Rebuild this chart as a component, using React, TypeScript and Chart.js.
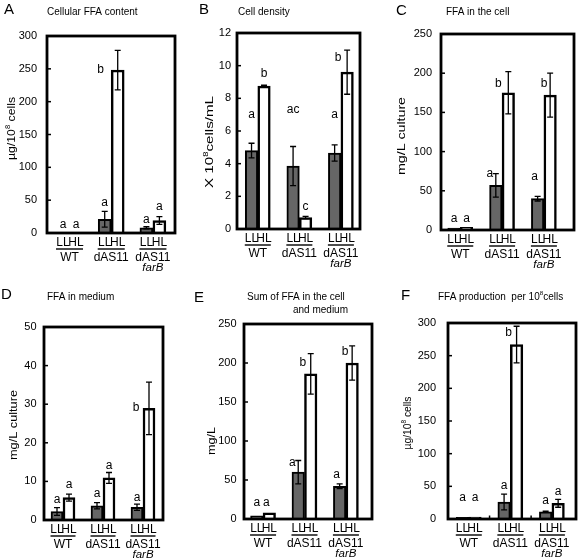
import React, { useEffect, useRef } from "react";
import { Chart, registerables } from "chart.js";

Chart.register(...registerables);

const W = 583;
const H = 559;
const FONT = '"Liberation Sans", Arial, Helvetica, sans-serif';
const GRAY = "#666666";

const groupNames = ["WT", "dAS11", "dAS11"];
const groupSubNames = ["", "", "farB"];
const lightLabels = ["LL", "HL"];

// ---- Panel A: Cellular FFA content (µg/10^8 cells)
const A_LL = [0, 21, 8];
const A_HL = [0, 248, 19];
const A_ERR_LL = [0, 12, 1.5];
const A_ERR_HL = [0, 30, 6];
const A_LET_LL = ["a", "a", "a"];
const A_LET_HL = ["a", "b", "a"];

// ---- Panel B: Cell density (x10^8 cells/mL)
const B_LL = [4.8, 3.85, 4.65];
const B_HL = [8.75, 0.7, 9.6];
const B_ERR_LL = [0.45, 1.2, 0.5];
const B_ERR_HL = [0.05, 0.07, 1.35];
const B_LET_LL = ["a", "ac", "a"];
const B_LET_HL = ["b", "c", "b"];

// ---- Panel C: FFA in the cell (mg/L culture)
const C_LL = [2.5, 57, 40];
const C_HL = [3.5, 175, 172];
const C_ERR_LL = [0, 15, 3];
const C_ERR_HL = [0, 27, 28];
const C_LET_LL = ["a", "a", "a"];
const C_LET_HL = ["a", "b", "b"];

// ---- Panel D: FFA in medium (mg/L culture)
const D_LL = [2.2, 3.7, 3.3];
const D_HL = [5.8, 10.9, 28.9];
const D_ERR_LL = [1.0, 0.8, 0.8];
const D_ERR_HL = [0.9, 1.4, 6.8];
const D_LET_LL = ["a", "a", "a"];
const D_LET_HL = ["a", "a", "b"];

// ---- Panel E: Sum of FFA in the cell and medium (mg/L)
const E_LL = [4, 60, 42];
const E_HL = [8, 186, 200];
const E_ERR_LL = [0, 15, 3];
const E_ERR_HL = [0, 26, 22];
const E_LET_LL = ["a", "a", "a"];
const E_LET_HL = ["a", "b", "b"];

// ---- Panel F: FFA production per 10^8 cells (µg/10^8 cells)
const F_LL = [2.5, 26, 11];
const F_HL = [3, 267, 24];
const F_ERR_LL = [0, 12, 1];
const F_ERR_HL = [0, 28, 6];
const F_LET_LL = ["a", "a", "a"];
const F_LET_HL = ["a", "b", "a"];

type Part = { t: string; sup?: boolean; it?: boolean };

type Panel = {
  id: string;
  letter: string;
  letterPos: [number, number];
  titles: { x: number; y: number; align: CanvasTextAlign; parts: Part[] }[];
  yTitle: Part[];
  yTitlePos: [number, number, number];
  frame: [number, number, number, number];
  xMin: number;
  xMax: number;
  yMax: number;
  yStep: number;
  tickPad: number;
  barW: number;
  catTicks?: boolean;
  LL: number[];
  HL: number[];
  errLL: number[];
  errHL: number[];
  letLL: string[];
  letHL: string[];
  letYLL: number[];
  letYHL: number[];
  letDxLL: number[];
  letDxHL: number[];
};

const ugTitle: Part[] = [{ t: "µg/10" }, { t: "8", sup: true }, { t: " cells" }];

const PANELS: Panel[] = [
  {
    id: "A", letter: "A", letterPos: [4, 10],
    titles: [{ x: 47, y: 12, align: "left", parts: [{ t: "Cellular FFA content" }] }],
    yTitle: ugTitle, yTitlePos: [11.5, 128.5, 63],
    frame: [47, 36, 175, 233], xMin: -0.54, xMax: 2.53, yMax: 300, yStep: 50, tickPad: 10, barW: 13,
    LL: A_LL, HL: A_HL, errLL: A_ERR_LL, errHL: A_ERR_HL, letLL: A_LET_LL, letHL: A_LET_HL,
    letYLL: [12, 46, 20], letYHL: [12, 248, 40], letDxLL: [0, 0, 0], letDxHL: [0, -17, 0],
  },
  {
    id: "B", letter: "B", letterPos: [199, 10],
    titles: [{ x: 238, y: 12, align: "left", parts: [{ t: "Cell density" }] }],
    yTitle: [{ t: "X 10" }, { t: "8", sup: true }, { t: "cells/mL" }], yTitlePos: [210, 142, 92],
    frame: [237, 33, 360, 229], xMin: -0.5, xMax: 2.46, yMax: 12, yStep: 2, tickPad: 6, barW: 12.5,
    LL: B_LL, HL: B_HL, errLL: B_ERR_LL, errHL: B_ERR_HL, letLL: B_LET_LL, letHL: B_LET_HL,
    letYLL: [7.0, 7.3, 7.0], letYHL: [9.5, 1.35, 10.47], letDxLL: [0, 0, 0], letDxHL: [0, 0, -9],
  },
  {
    id: "C", letter: "C", letterPos: [396, 11],
    titles: [{ x: 446, y: 12, align: "left", parts: [{ t: "FFA in the cell" }] }],
    yTitle: [{ t: "mg/L culture" }], yTitlePos: [402, 136, 78],
    frame: [441, 34, 574, 230], xMin: -0.46, xMax: 2.72, yMax: 250, yStep: 50, tickPad: 9, barW: 12.5,
    LL: C_LL, HL: C_HL, errLL: C_ERR_LL, errHL: C_ERR_HL, letLL: C_LET_LL, letHL: C_LET_HL,
    letYLL: [15, 72, 68], letYHL: [15, 187, 187], letDxLL: [0, -6, -3], letDxHL: [0, -10, -6],
  },
  {
    id: "D", letter: "D", letterPos: [1, 295],
    titles: [{ x: 47, y: 297, align: "left", parts: [{ t: "FFA in medium" }] }],
    yTitle: [{ t: "mg/L culture" }], yTitlePos: [14, 425, 70],
    frame: [44, 327, 163, 520], xMin: -0.475, xMax: 2.5, yMax: 50, yStep: 10, tickPad: 7.5, barW: 12,
    LL: D_LL, HL: D_HL, errLL: D_ERR_LL, errHL: D_ERR_HL, letLL: D_LET_LL, letHL: D_LET_HL,
    letYLL: [5.2, 6.9, 5.9], letYHL: [9.05, 14.2, 29], letDxLL: [0, 0, 0], letDxHL: [0, 0, -13],
  },
  {
    id: "E", letter: "E", letterPos: [194, 298],
    titles: [
      { x: 247, y: 297, align: "left", parts: [{ t: "Sum of FFA in the cell" }] },
      { x: 348, y: 310, align: "right", parts: [{ t: "and medium" }] },
    ],
    yTitle: [{ t: "mg/L" }], yTitlePos: [212, 441, 28],
    frame: [244, 324, 372, 519], xMin: -0.46, xMax: 2.63, yMax: 250, yStep: 50, tickPad: 7.5, barW: 12.5,
    LL: E_LL, HL: E_HL, errLL: E_ERR_LL, errHL: E_ERR_HL, letLL: E_LET_LL, letHL: E_LET_HL,
    letYLL: [20.6, 72, 57], letYHL: [20.6, 201, 214], letDxLL: [0, -6, -3], letDxHL: [-3, -8, -7],
  },
  {
    id: "F", letter: "F", letterPos: [401, 296],
    titles: [{ x: 438, y: 297, align: "left", parts: [{ t: "FFA production  per 10" }, { t: "8", sup: true }, { t: "cells" }] }],
    yTitle: ugTitle, yTitlePos: [408, 423, 53],
    frame: [448, 323, 576, 519], xMin: -0.5, xMax: 2.58, yMax: 300, yStep: 50, tickPad: 12, barW: 12.5, catTicks: true,
    LL: F_LL, HL: F_HL, errLL: F_ERR_LL, errHL: F_ERR_HL, letLL: F_LET_LL, letHL: F_LET_HL,
    letYLL: [32, 51, 28], letYHL: [32, 285, 42], letDxLL: [0, 0, 0], letDxHL: [0, -8, 0],
  },
];

function partFont(p: Part, size: number) {
  const s = p.sup ? size * 0.62 : size;
  return `${p.it ? "italic " : ""}${s}px ${FONT}`;
}
function measureParts(ctx: CanvasRenderingContext2D, parts: Part[], size: number) {
  let w = 0;
  for (const p of parts) {
    ctx.font = partFont(p, size);
    w += ctx.measureText(p.t).width;
  }
  return w;
}
function drawParts(ctx: CanvasRenderingContext2D, parts: Part[], x: number, y: number, size: number) {
  let cx = x;
  ctx.textAlign = "left";
  ctx.textBaseline = "middle";
  for (const p of parts) {
    ctx.font = partFont(p, size);
    ctx.fillText(p.t, cx, p.sup ? y - size * 0.33 : y);
    cx += ctx.measureText(p.t).width;
  }
}

function makePlugin(p: Panel) {
  return {
    id: "panelDecor" + p.id,
    afterDatasetsDraw(chart: any) {
      const ctx: CanvasRenderingContext2D = chart.ctx;
      const ys = chart.scales.y;
      const xs = chart.scales.x;
      const { left, top, right, bottom } = chart.chartArea;
      ctx.save();
      ctx.fillStyle = "#000";
      ctx.strokeStyle = "#000";

      // frame
      ctx.lineWidth = 2.8;
      ctx.strokeRect(left, top, right - left, bottom - top);

      // inward y ticks
      ctx.lineWidth = 1.5;
      ys.ticks.forEach((t: any) => {
        const y = ys.getPixelForValue(t.value);
        ctx.beginPath();
        ctx.moveTo(left, y);
        ctx.lineTo(left + 4, y);
        ctx.stroke();
      });

      if (p.catTicks) {
        for (let i = 0; i < 2; i++) {
          const x = xs.getPixelForValue(i + 0.5);
          ctx.beginPath();
          ctx.moveTo(x, bottom);
          ctx.lineTo(x, bottom - 3.5);
          ctx.stroke();
        }
      }

      // error bars, letters, LL/HL labels
      for (let di = 0; di < 2; di++) {
        const meta = chart.getDatasetMeta(di);
        const vals = di === 0 ? p.LL : p.HL;
        const errs = di === 0 ? p.errLL : p.errHL;
        const lets = di === 0 ? p.letLL : p.letHL;
        const letY = di === 0 ? p.letYLL : p.letYHL;
        const letDx = di === 0 ? p.letDxLL : p.letDxHL;
        meta.data.forEach((el: any, i: number) => {
          const x = el.x;
          const e = errs[i];
          if (e > 0) {
            const y1 = ys.getPixelForValue(vals[i] + e);
            const y2 = ys.getPixelForValue(Math.max(0, vals[i] - e));
            ctx.lineWidth = 1.3;
            ctx.beginPath();
            ctx.moveTo(x, y1);
            ctx.lineTo(x, y2);
            ctx.moveTo(x - 3, y1);
            ctx.lineTo(x + 3, y1);
            ctx.moveTo(x - 3, y2);
            ctx.lineTo(x + 3, y2);
            ctx.stroke();
          }
          ctx.textAlign = "center";
          ctx.textBaseline = "middle";
          ctx.font = `12px ${FONT}`;
          ctx.fillText(lets[i], x + letDx[i], ys.getPixelForValue(letY[i]));
          ctx.font = `12px ${FONT}`;
          ctx.fillText(lightLabels[di], x, bottom + 10);
        });
      }

      // underline and group names
      const ll = chart.getDatasetMeta(0).data;
      const hl = chart.getDatasetMeta(1).data;
      for (let i = 0; i < groupNames.length; i++) {
        const x1 = ll[i].x - p.barW / 2 - 0.5;
        const x2 = hl[i].x + p.barW / 2 + 0.5;
        ctx.lineWidth = 1.4;
        ctx.beginPath();
        ctx.moveTo(x1, bottom + 16);
        ctx.lineTo(x2, bottom + 16);
        ctx.stroke();
        const gx = xs.getPixelForValue(i);
        ctx.textAlign = "center";
        ctx.textBaseline = "middle";
        ctx.font = `12px ${FONT}`;
        ctx.fillText(groupNames[i], gx, bottom + 25);
        if (groupSubNames[i]) {
          ctx.font = `italic 11.5px ${FONT}`;
          ctx.fillText(groupSubNames[i], gx, bottom + 34.5);
        }
      }

      // panel letter
      ctx.textAlign = "left";
      ctx.textBaseline = "middle";
      ctx.font = `15px ${FONT}`;
      ctx.fillText(p.letter, p.letterPos[0], p.letterPos[1]);

      // panel titles
      for (const t of p.titles) {
        const w = measureParts(ctx, t.parts, 10);
        const x0 = t.align === "right" ? t.x - w : t.x;
        drawParts(ctx, t.parts, x0, t.y, 10);
      }

      // y-axis title (rotated)
      const [cx, cy, len] = p.yTitlePos;
      const tw = measureParts(ctx, p.yTitle, 11);
      ctx.save();
      ctx.translate(cx, cy);
      ctx.rotate(-Math.PI / 2);
      ctx.scale(len / tw, 1);
      drawParts(ctx, p.yTitle, -tw / 2, 0, 11);
      ctx.restore();

      ctx.restore();
    },
  };
}

function buildConfig(p: Panel): any {
  const axisW = 40;
  return {
    type: "bar",
    data: {
      datasets: [
        {
          label: "LL",
          data: p.LL.map((v, i) => ({ x: i, y: v })),
          backgroundColor: GRAY,
          borderColor: "#000",
          borderWidth: 2,
          barThickness: p.barW,
        },
        {
          label: "HL",
          data: p.HL.map((v, i) => ({ x: i, y: v })),
          backgroundColor: "#ffffff",
          borderColor: "#000",
          borderWidth: 2.5,
          barThickness: p.barW,
        },
      ],
    },
    options: {
      responsive: false,
      animation: false,
      devicePixelRatio: 1,
      layout: {
        padding: {
          left: p.frame[0] - axisW,
          top: p.frame[1],
          right: W - p.frame[2],
          bottom: H - p.frame[3],
        },
      },
      plugins: {
        legend: { display: false },
        tooltip: { enabled: false },
        title: { display: false },
      },
      scales: {
        x: {
          type: "linear",
          min: p.xMin,
          max: p.xMax,
          offset: false,
          display: false,
          grid: { display: false },
        },
        y: {
          type: "linear",
          min: 0,
          max: p.yMax,
          display: true,
          afterFit: (s: any) => {
            s.width = axisW;
          },
          border: { display: false },
          grid: { display: false, drawTicks: false },
          ticks: {
            stepSize: p.yStep,
            padding: p.tickPad,
            color: "#000",
            font: { family: FONT, size: 11 },
          },
        },
      },
    },
    plugins: [makePlugin(p)],
  };
}

export default function App() {
  const refs = useRef<(HTMLCanvasElement | null)[]>([]);
  useEffect(() => {
    const charts = PANELS.map((p, i) => new Chart(refs.current[i] as HTMLCanvasElement, buildConfig(p)));
    return () => {
      charts.forEach((c) => c.destroy());
    };
  }, []);
  return (
    <div style={{ position: "absolute", left: 0, top: 0, width: W, height: H, background: "#fff" }}>
      {PANELS.map((p, i) => (
        <canvas
          key={p.id}
          ref={(el) => {
            refs.current[i] = el;
          }}
          width={W}
          height={H}
          style={{ position: "absolute", left: 0, top: 0, width: W, height: H }}
        />
      ))}
    </div>
  );
}
